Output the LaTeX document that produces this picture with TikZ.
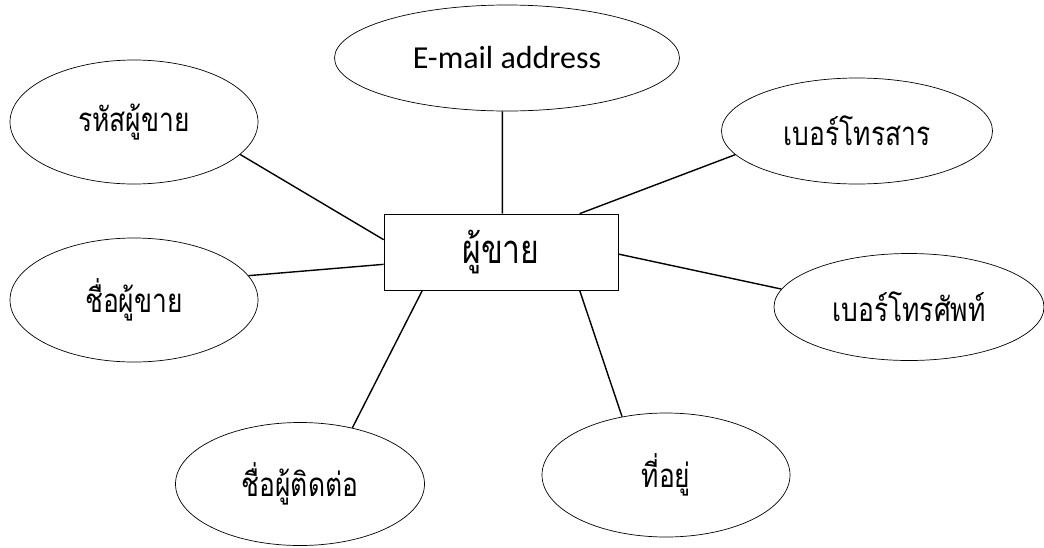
\documentclass[tikz,border=0pt]{standalone}
\usepackage{fontspec}
\setmainfont{Carlito}
\newfontfamily\thaifont[Script=Thai,FakeStretch=0.8]{Loma}
\usetikzlibrary{shapes.geometric}
\begin{document}
\begin{tikzpicture}[x=1pt,y=-1pt,
	    attr/.style={draw, ellipse, line width=0.7pt, inner sep=0pt, font=\thaifont\fontsize{33}{38}\selectfont},
	    ent/.style={draw, rectangle, line width=0.7pt, inner sep=0pt, minimum width=234pt, minimum height=76pt, font=\thaifont\fontsize{40}{44}\selectfont},
	    link/.style={line width=1.4pt}]
	    \useasboundingbox (0,0) rectangle (1044,547);
	    \node[ent] (seller) at (501,252) {ผู้ขาย};
	    \node[attr, minimum width=345pt, minimum height=106pt, font=\fontsize{32}{38}\selectfont] (email) at (507,58) {E-mail address};
	    \node[attr, minimum width=248pt, minimum height=124pt] (sid) at (134,122) {รหัสผู้ขาย};
	    \node[attr, minimum width=248pt, minimum height=124pt] (sname) at (134,300) {ชื่อผู้ขาย};
	    \node[attr, minimum width=271pt, minimum height=106pt] (fax) at (857,131) {เบอร์โทรสาร};
	    \node[attr, minimum width=270pt, minimum height=107pt] (tel) at (909,307) {เบอร์โทรศัพท์};
	    \node[attr, minimum width=249pt, minimum height=123pt] (contact) at (300,484) {ชื่อผู้ติดต่อ};
	    \node[attr, minimum width=248pt, minimum height=124pt] (addr) at (666,475) {ที่อยู่};
	    \draw[link] (sid.343) -- (seller.174);
	    \draw[link] (sname.12) -- (seller.186);
	    \draw[link] (email.265) -- (seller.88);
	    \draw[link] (fax.191) -- (seller.26);
	    \draw[link] (tel.172) -- (seller.-1.5);
	    \draw[link] (contact.47) -- (seller.206);
	    \draw[link] (addr.127) -- (seller.334);
	\end{tikzpicture}
\end{document}
